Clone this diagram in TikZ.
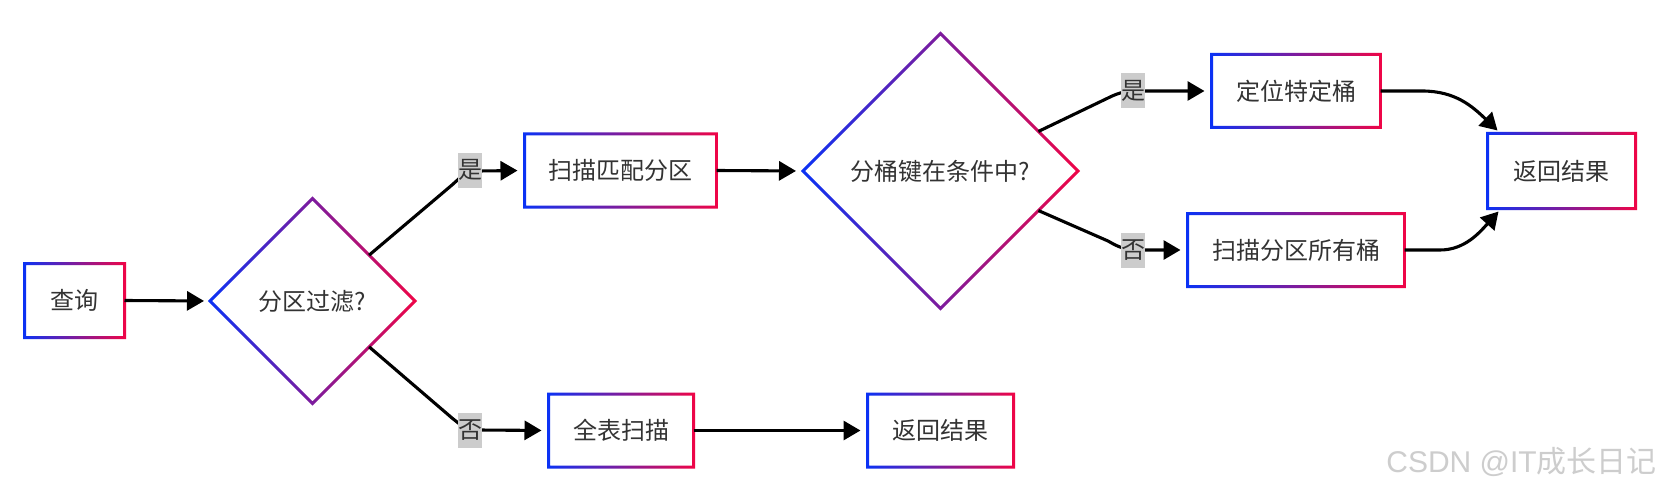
\documentclass[tikz,border=0pt]{standalone}
\usepackage{fontspec}
\setmainfont{Noto Sans CJK SC}
\newfontfamily\wmlatin{Liberation Sans}
\usetikzlibrary{arrows.meta,shapes.geometric,calc}
\definecolor{gblue}{RGB}{10,50,245}
\definecolor{gred}{RGB}{240,5,70}
\definecolor{txt}{RGB}{51,51,51}
\definecolor{lblbg}{RGB}{204,204,204}
\definecolor{wmgray}{RGB}{205,205,205}
\newcommand\mygframe[1]{%
  \shade[left color=gblue,right color=gred,even odd rule]
    ([shift={(-1.5pt,-1.5pt)}]#1.south west) rectangle ([shift={(1.5pt,1.5pt)}]#1.north east)
    ([shift={(1.5pt,1.5pt)}]#1.south west) rectangle ([shift={(-1.5pt,-1.5pt)}]#1.north east);}
\newcommand\mydframe[1]{%
  \shade[left color=gblue,right color=gred,even odd rule]
    ([yshift=2.1pt]#1.north) -- ([xshift=2.1pt]#1.east) -- ([yshift=-2.1pt]#1.south) -- ([xshift=-2.1pt]#1.west) -- cycle
    ([yshift=-2.1pt]#1.north) -- ([xshift=-2.1pt]#1.east) -- ([yshift=2.1pt]#1.south) -- ([xshift=2.1pt]#1.west) -- cycle;}
\begin{document}
\begin{tikzpicture}[x=1pt,y=-1pt,
  font=\fontsize{24pt}{29pt}\selectfont,
  boxnode/.style={rectangle,inner sep=0pt,outer sep=0pt,text=txt,minimum height=73pt},
  decnode/.style={diamond,aspect=1,inner sep=0pt,outer sep=0pt,text=txt},
  lbl/.style={fill=lblbg,inner sep=0pt,minimum width=24pt,minimum height=35pt,text=txt},
  conn/.style={line width=3.1pt,-{Triangle[length=17pt,width=19pt]}}]
\fill[white] (0,0) rectangle (1662,492);
\useasboundingbox (0,0) rectangle (1662,492);

% nodes
\node[boxnode,minimum width=100pt,minimum height=74pt] (q) at (74.5,300.5) {查询};
\node[decnode,minimum size=205pt] (d1) at (312.5,301) {分区过滤?};
\node[boxnode,minimum width=192pt] (smp) at (620.5,170.5) {扫描匹配分区};
\node[boxnode,minimum width=145pt] (full) at (621,430.5) {全表扫描};
\node[boxnode,minimum width=146pt] (ret1) at (940.5,430.5) {返回结果};
\node[decnode,minimum size=275pt] (d2) at (940.5,171) {分桶键在条件中?};
\node[boxnode,minimum width=169pt] (loc) at (1296,91) {定位特定桶};
\node[boxnode,minimum width=217pt] (all) at (1296,250) {扫描分区所有桶};
\node[boxnode,minimum width=148pt,minimum height=75pt] (ret2) at (1561.5,171) {返回结果};

% frames
\mygframe{q}
\mygframe{smp}
\mygframe{full}
\mygframe{ret1}
\mygframe{loc}
\mygframe{all}
\mygframe{ret2}
\mydframe{d1}
\mydframe{d2}

% label positions
\coordinate (l1) at (470,170);
\coordinate (l2) at (470,430);
\coordinate (l3) at (1133,91);
\coordinate (l4) at (1133,250);

% connectors
\draw[conn,shorten >=6pt] (q.east) -- (d1.west);
\draw[conn,shorten >=7pt] (d1.39) -- (452,185) .. controls (462,176) and (466,171) .. (478,171) -- (smp.west);
\draw[conn,shorten >=7pt] (d1.-39) -- (452,418) .. controls (462,426) and (466,430) .. (478,430) -- (full.west);
\draw[conn,shorten >=7pt] (smp.east) -- (d2.west);
\draw[conn,shorten >=7pt] (d2.22) -- (1108,98) .. controls (1120,92) and (1126,91) .. (1140,91) -- (loc.west);
\draw[conn,shorten >=7pt] (d2.-22) -- (1108,241) .. controls (1120,248) and (1126,250) .. (1140,250) -- (all.west);
\draw[conn,shorten >=7pt] (full.east) -- (ret1.west);
\draw[conn] (loc.east) -- (1422,91) .. controls (1455,91) and (1472,106) .. ([shift={(10pt,3pt)}]ret2.north west);
\draw[conn] (all.east) -- (1440,250) .. controls (1465,250) and (1480,232) .. ([shift={(11pt,-3pt)}]ret2.south west);

% labels
\node[lbl] (lab1) at (l1) {是};
\node[lbl] (lab2) at (l2) {否};
\node[lbl] (lab3) at (l3) {是};
\node[lbl] (lab4) at (l4) {否};

% watermark
\node[anchor=base east,text=wmgray,inner sep=0pt,font=\fontsize{30pt}{36pt}\selectfont] (wm) at (1657,472) {{\wmlatin CSDN @IT}成长日记};
\end{tikzpicture}
\end{document}
